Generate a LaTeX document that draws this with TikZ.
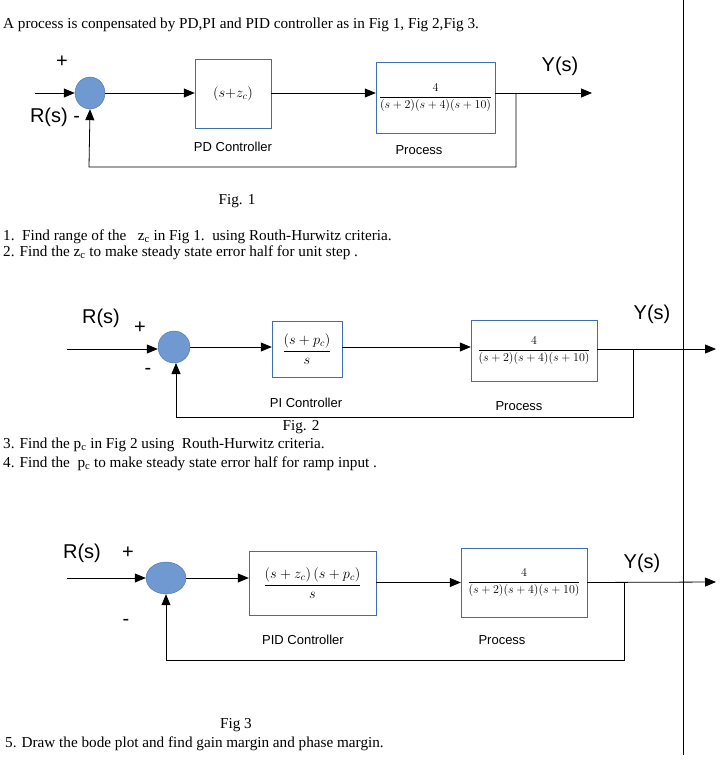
\documentclass[tikz,border=0pt]{standalone}
\usepackage{fontspec}
\setmainfont{Liberation Serif}
\newfontfamily\lsans{Liberation Sans}
\usetikzlibrary{arrows.meta,shapes.geometric}
\definecolor{sumfill}{HTML}{6F99D0}
\definecolor{sumdraw}{HTML}{4A74AE}
\definecolor{boxdraw}{HTML}{3C6EB4}
\tikzset{
 sum/.style={ellipse,fill=sumfill,draw=sumdraw,minimum width=#1,minimum height=32pt,inner sep=0pt},
 blk/.style={draw=boxdraw,minimum width=#1,inner sep=0pt,font=\fontsize{12}{14}\selectfont},
 sig/.style={-{Triangle[length=11pt,width=9pt]},line width=0.8pt},
 ln/.style={line width=0.8pt},
 big/.style={font=\lsans\fontsize{20}{22}\selectfont,inner sep=0pt},
 lab/.style={font=\lsans\fontsize{13}{15}\selectfont,inner sep=0pt},
 txt/.style={font=\fontsize{15.2}{17}\selectfont,inner sep=0pt,anchor=west},
}
\begin{document}
\begin{tikzpicture}[x=1pt,y=-1pt]
\useasboundingbox (0,0) rectangle (724,766);
\draw[ln] (683,0) -- (683,755);
\node[txt] (t0) at (3,25) {A process is conpensated by PD,PI and PID controller as in Fig 1, Fig 2,Fig 3.};
% Fig 1
\coordinate (in1) at (35,93);
\node[sum=30pt] (s1) at (90,93) {};
\node[blk=76pt,minimum height=69pt,font=\fontsize{14}{16}\selectfont] (pd) at (233,93.5) {$(s{+}z_c)$};
\node[blk=119pt,minimum height=71pt] (p1) at (435.5,97.5) {$\displaystyle\frac{4}{(s+2)(s+4)(s+10)}$};
\coordinate (o1) at (592,93);
\coordinate (b1) at (516,93);
\draw[sig] (in1) -- (s1);
\draw[sig] (s1) -- (pd.west|-s1);
\draw[sig] (pd.east|-s1) -- (p1.west|-s1);
\draw[sig] (p1.east|-s1) -- (o1);
\draw[sig] (b1) -- (516,167) -- (89,167) -- (s1.south);
\node[big] (pl1) at (62,62) {+};
\node[big] (r1) at (55,117) {R(s) -};
\node[big] (y1) at (560,66) {Y(s)};
\node[lab] (l1) at (233,147) {PD Controller};
\node[lab] (l2) at (419,150) {Process};
\node[txt,anchor=center] (f1) at (237,201) {Fig. 1};
\node[txt] (q1) at (3,237) {1.\ \ Find range of the \ \ z\textsubscript{c} in Fig 1.\ \ using Routh-Hurwitz criteria.};
\node[txt] (q2) at (3,253) {2. Find the z\textsubscript{c} to make steady state error half for unit step .};
% Fig 2
\coordinate (in2) at (67,349);
\node[sum=32pt] (s2) at (174,347) {};
\node[blk=70pt,minimum height=56pt,font=\fontsize{14}{16}\selectfont] (pi) at (307,349) {$\displaystyle\frac{(s+p_c)}{s}$};
\node[blk=126pt,minimum height=61pt] (p2) at (534,350.5) {$\displaystyle\frac{4}{(s+2)(s+4)(s+10)}$};
\coordinate (o2) at (716,349);
\coordinate (b2) at (633,349);
\draw[sig] (in2) -- (s2.west|-in2);
\draw[sig] (s2) -- (pi.west|-s2);
\draw[sig] (pi.east|-s2) -- (p2.west|-s2);
\draw[sig] (p2.east|-o2) -- (o2);
\draw[sig] (b2) -- (633,417) -- (176,417) -- (176,363);
\node[big] (r2) at (101,318) {R(s)};
\node[big] (pl2) at (140,328) {+};
\node[big] (m2) at (148,371) {-};
\node[big] (y2) at (652,314) {Y(s)};
\node[lab] (l3) at (306,403) {PI Controller};
\node[lab] (l4) at (519,406) {Process};
\node[txt,anchor=center] (f2) at (301,427) {Fig. 2};
\node[txt] (q3) at (3,445) {3. Find the p\textsubscript{c}\ in Fig 2 using\ \ Routh-Hurwitz criteria.};
\node[txt] (q4) at (3,464) {4. Find the\ \ p\textsubscript{c} to make steady state error half for ramp input .};
% Fig 3
\coordinate (in3) at (67,578);
\node[sum=40pt] (s3) at (166,578) {};
\node[blk=127pt,minimum height=64pt,font=\fontsize{14}{16}\selectfont] (pid) at (312.5,583) {$\displaystyle\frac{(s+z_c)\,(s+p_c)}{s}$};
\node[blk=126pt,minimum height=69pt] (p3) at (524,582.5) {$\displaystyle\frac{4}{(s+2)(s+4)(s+10)}$};
\coordinate (o3) at (716,582);
\coordinate (b3) at (624,582);
\draw[sig] (in3) -- (s3);
\draw[sig] (s3) -- (pid.west|-s3);
\draw[sig] (pid.east|-p3) -- (p3.west);
\draw[sig] (p3.east) -- (o3);
\draw[sig] (b3) -- (624,660) -- (166,660) -- (s3.south);
\node[big] (r3) at (82,553) {R(s)};
\node[big] (pl3) at (128,553) {+};
\node[big] (m3) at (126,622) {-};
\node[big] (y3) at (642,563) {Y(s)};
\node[lab] (l5) at (303,640) {PID Controller};
\node[lab] (l6) at (502,640) {Process};
\node[txt,anchor=center] (f3) at (236,725) {Fig 3};
\node[txt] (q5) at (5,744) {5. Draw the bode plot and find gain margin and phase margin.};
\end{tikzpicture}
\end{document}
